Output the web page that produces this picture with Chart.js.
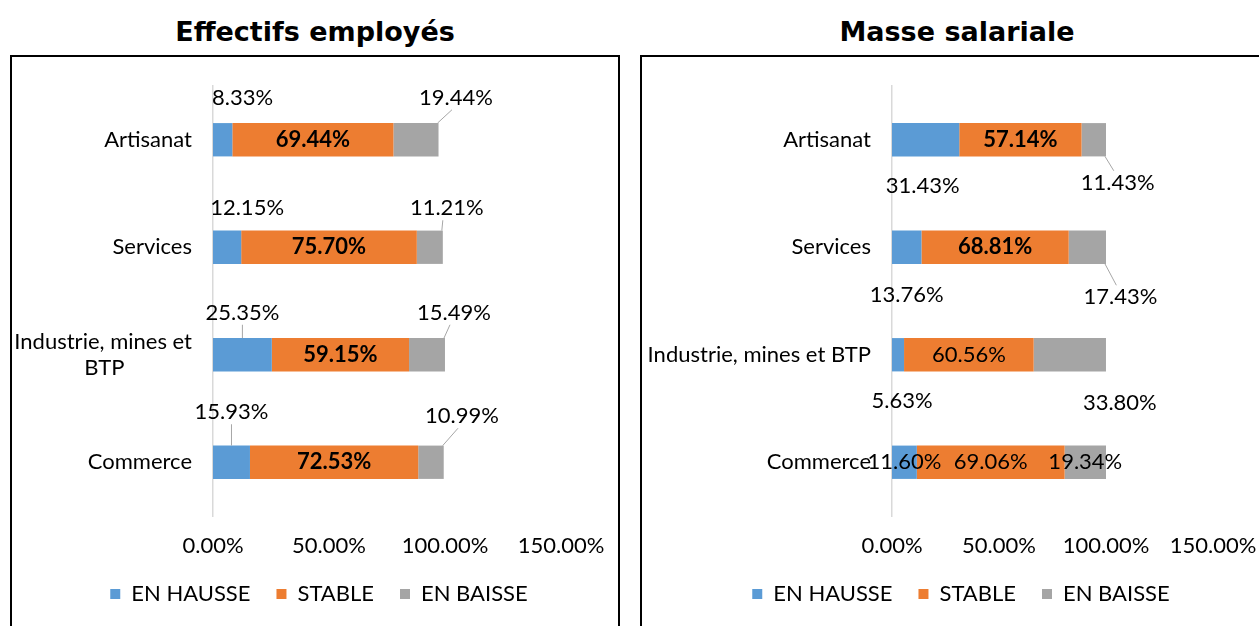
<!DOCTYPE html>
<html>
<head>
<meta charset="utf-8">
<script src="https://cdn.jsdelivr.net/npm/chart.js@4.4.1/dist/chart.umd.min.js"></script>
<style>
  body { margin: 0; width: 1259px; height: 626px; overflow: hidden; background: #fff; position: relative; }
  .title { position: absolute; top: 16px; font: bold 27px "DejaVu Sans"; text-align: center; color: #000; }
  .box { position: absolute; top: 55px; height: 620px; border: 2px solid #000; }
  canvas { position: absolute; top: 57px; }
</style>
</head>
<body>
<div class="title" style="left:10px;width:610px">Effectifs employés</div>
<div class="box" style="left:10px;width:606px"></div>
<canvas id="effectifs" width="614" height="569" style="left:12px"></canvas>

<div class="title" style="left:640px;width:634px">Masse salariale</div>
<div class="box" style="left:640px;width:630px"></div>
<canvas id="masse" width="638" height="569" style="left:642px"></canvas>

<script>
const categories = ['Artisanat', 'Services', 'Industrie, mines et BTP', 'Commerce'];
const seriesNames = ['EN HAUSSE', 'STABLE', 'EN BAISSE'];
const xTicks = [0, 50, 100, 150];

// Effectifs employés (%)
const effHausse = [8.33, 12.15, 25.35, 15.93];
const effStable = [69.44, 75.70, 59.15, 72.53];
const effBaisse = [19.44, 11.21, 15.49, 10.99];

// Masse salariale (%)
const masHausse = [31.43, 13.76, 5.63, 11.60];
const masStable = [57.14, 68.81, 60.56, 69.06];
const masBaisse = [11.43, 17.43, 33.80, 19.34];

const colors = ['#5B9BD5', '#ED7D31', '#A5A5A5'];
const FONT = 'Lato';
const SIZE = 22;

const fmt = v => v.toFixed(2) + '%';

// label placement relative to the segment centre (Excel-like callouts)
const I = { dx: 0, dy: 0 };
const effPlace = [
    [{ dx: 20, dy: -42 }, { dx: 20, dy: -39 }, { dx: 0, dy: -42, leader: true }, { dx: 0, dy: -50, leader: true }],
    [{ ...I, bold: true }, { ...I, bold: true }, { ...I, bold: true }, { ...I, bold: true }],
    [{ dx: 40, dy: -42, leader: true }, { dx: 17, dy: -39, leader: true }, { dx: 27, dy: -42, leader: true }, { dx: 31, dy: -46, leader: true }]
];
const masPlace = [
    [{ dx: -3, dy: 46 }, { dx: 0, dy: 48 }, { dx: 4, dy: 46 }, { ...I }],
    [{ ...I, bold: true }, { ...I, bold: true }, { ...I }, { ...I }],
    [{ dx: 24, dy: 43, leader: true }, { dx: 33, dy: 50, leader: true }, { dx: 50, dy: 48 }, { ...I }]
];

const barLabels = {
    id: 'barLabels',
    afterDatasetsDraw(chart, args, opts) {
        const ctx = chart.ctx;
        ctx.save();
        chart.data.datasets.forEach((ds, di) => {
            chart.getDatasetMeta(di).data.forEach((bar, i) => {
                const p = opts.place[di][i];
                const left = Math.min(bar.base, bar.x), right = Math.max(bar.base, bar.x);
                const top = bar.y - bar.height / 2, bottom = bar.y + bar.height / 2;
                const lx = (left + right) / 2 + p.dx, ly = bar.y + p.dy;
                ctx.font = (p.bold ? 'bold ' : '') + SIZE + 'px ' + FONT;
                ctx.fillStyle = '#000';
                ctx.textAlign = 'center';
                ctx.textBaseline = 'middle';
                ctx.fillText(fmt(ds.data[i]), lx, ly);
                if (p.leader) {
                    const ex = lx - Math.sign(p.dx) * 4;
                    const ey = p.dy < 0 ? ly + 12 : ly - 12;
                    const sx = Math.min(Math.max(ex, left), right - 1);
                    const sy = Math.min(Math.max(ey, top), bottom);
                    ctx.strokeStyle = '#A6A6A6';
                    ctx.lineWidth = 1;
                    ctx.beginPath();
                    ctx.moveTo(sx, sy);
                    ctx.lineTo(ex, ey);
                    ctx.stroke();
                }
            });
        });
        ctx.restore();
    }
};

// centre the lines of a wrapped axis label (Chart.js right-aligns each line)
function centredLines(lines) {
    const m = document.createElement('canvas').getContext('2d');
    m.font = SIZE + 'px ' + FONT;
    const widths = lines.map(l => m.measureText(l).width);
    const max = Math.max(...widths);
    const sp = m.measureText(' ').width;
    return lines.map((l, k) => l + ' '.repeat(Math.round((max - widths[k]) / 2 / sp)));
}

function makeChart(id, hausse, stable, baisse, place, axisWidth, rightGap, wrap) {
    const values = [hausse, stable, baisse];
    return new Chart(document.getElementById(id), {
        type: 'bar',
        data: {
            labels: categories,
            datasets: seriesNames.map((name, k) => ({
                label: name,
                data: values[k],
                backgroundColor: colors[k],
                barPercentage: 0.31,
                categoryPercentage: 1
            }))
        },
        options: {
            indexAxis: 'y',
            responsive: false,
            animation: false,
            layout: { padding: { top: 29, right: 0, bottom: 11, left: 0 } },
            scales: {
                x: {
                    stacked: true,
                    min: xTicks[0],
                    max: xTicks[xTicks.length - 1],
                    afterBuildTicks: s => { s.ticks = xTicks.map(v => ({ value: v })); },
                    grid: { display: false },
                    border: { display: false },
                    ticks: { callback: v => fmt(v), color: '#000', font: { family: FONT, size: SIZE }, padding: 9, maxRotation: 0 },
                    afterFit: s => { s.height = 41; s.paddingRight = rightGap; }
                },
                y: {
                    stacked: true,
                    grid: { display: false, drawTicks: false },
                    border: { color: '#D9D9D9', width: 1.5 },
                    ticks: {
                        color: '#000',
                        font: { family: FONT, size: SIZE },
                        padding: 21,
                        callback: function (v) {
                            const lab = this.getLabelForValue(v);
                            return (wrap && lab === 'Industrie, mines et BTP') ? centredLines(['Industrie, mines et', 'BTP']) : lab;
                        }
                    },
                    afterFit: s => { s.width = axisWidth; s.paddingTop = 0; s.paddingBottom = 0; }
                }
            },
            plugins: {
                legend: {
                    position: 'bottom',
                    labels: { boxWidth: 10, boxHeight: 10, color: '#000', font: { family: FONT, size: SIZE }, padding: 26 }
                },
                tooltip: { enabled: false },
                barLabels: { place: place }
            }
        },
        plugins: [barLabels]
    });
}

makeChart('effectifs', effHausse, effStable, effBaisse, effPlace, 201, 65, true);
makeChart('masse', masHausse, masStable, masBaisse, masPlace, 250, 67, false);
</script>
</body>
</html>
